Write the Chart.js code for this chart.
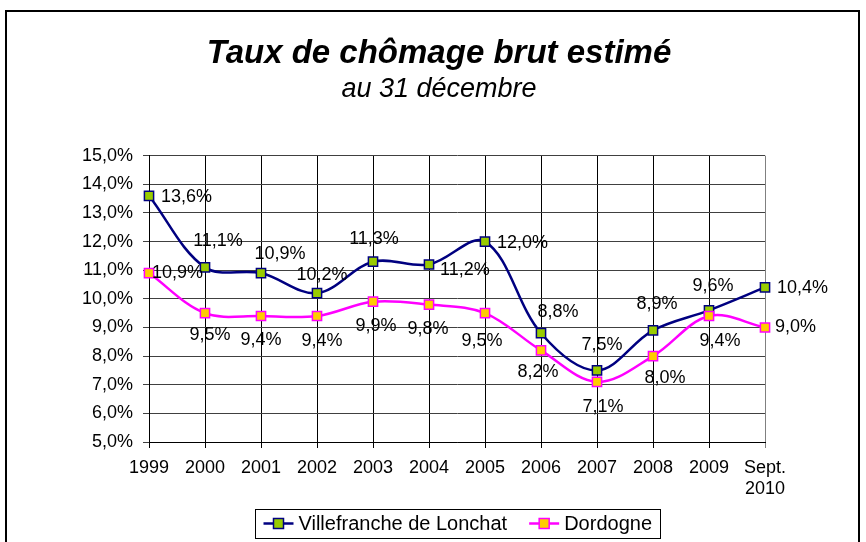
<!DOCTYPE html>
<html>
<head>
<meta charset="utf-8">
<script src="https://cdn.jsdelivr.net/npm/chart.js@4"></script>
<style>
    body { margin: 0; background: #fff; }
</style>
</head>
<body>
<canvas id="tauxChart" width="866" height="542"></canvas>
<script>
// années (dernier point = septembre 2010)
const years = ['1999', '2000', '2001', '2002', '2003', '2004', '2005', '2006', '2007', '2008', '2009', ['Sept.', '2010']];

// taux de chômage (%)
const villefranche = [13.6, 11.1, 10.9, 10.2, 11.3, 11.2, 12.0, 8.8, 7.5, 8.9, 9.6, 10.4];
const dordogne = [10.9, 9.5, 9.4, 9.4, 9.9, 9.8, 9.5, 8.2, 7.1, 8.0, 9.4, 9.0];

const yMin = 5;
const yMax = 15;
const yStep = 1;

const FONT = "'Liberation Sans', Arial, sans-serif";

// placement des étiquettes : [alignement, dx, dy] par rapport au point
const labelPlaceV = [
    ['left', 12, 1], ['center', 13, -26], ['center', 19, -19], ['center', 5, -18],
    ['center', 1, -23], ['left', 11, 6], ['left', 12, 1], ['center', 17, -21],
    ['center', 5, -25], ['center', 4, -26], ['center', 4, -24], ['left', 12, 1]
];
const labelPlaceD = [
    ['left', 3, 0], ['center', 5, 22], ['center', 0, 24], ['center', 5, 25],
    ['center', 3, 24], ['center', -1, 24], ['center', -3, 28], ['center', -3, 22],
    ['center', 6, 25], ['center', 12, 22], ['center', 11, 25], ['left', 10, 0]
];

function pct(v) {
    return v.toFixed(1).replace('.', ',') + '%';
}

// cadre extérieur
const framePlugin = {
    id: 'frame',
    beforeDraw(chart) {
        const ctx = chart.ctx;
        ctx.save();
        ctx.fillStyle = '#fff';
        ctx.fillRect(0, 0, chart.width, chart.height);
        ctx.strokeStyle = '#000';
        ctx.lineWidth = 2;
        ctx.strokeRect(6, 11, 853, 600);
        ctx.restore();
    }
};

// étiquettes de valeurs
const valueLabels = {
    id: 'valueLabels',
    afterDatasetsDraw(chart) {
        const ctx = chart.ctx;
        ctx.save();
        ctx.font = '18px ' + FONT;
        ctx.fillStyle = '#000';
        ctx.textBaseline = 'middle';
        chart.data.datasets.forEach((ds, di) => {
            const meta = chart.getDatasetMeta(di);
            const places = di === 0 ? labelPlaceV : labelPlaceD;
            meta.data.forEach((pt, i) => {
                const p = places[i];
                ctx.textAlign = p[0];
                ctx.fillText(pct(ds.data[i]), pt.x + p[1], pt.y + p[2]);
            });
        });
        ctx.restore();
    }
};

// légende encadrée
const boxLegend = {
    id: 'boxLegend',
    afterDraw(chart) {
        const ctx = chart.ctx;
        const area = chart.chartArea;
        ctx.save();
        ctx.font = '20px ' + FONT;
        const sym = 30, gap = 5, between = 22, pad = 8;
        const items = chart.data.datasets.map(ds => ({ ds, w: sym + gap + ctx.measureText(ds.label).width }));
        let total = pad * 2 + between * (items.length - 1);
        items.forEach(it => total += it.w);
        const top = 509, h = 29;
        const left = Math.round((area.left + area.right) / 2 - total / 2) + 0.5;
        ctx.strokeStyle = '#000';
        ctx.lineWidth = 1;
        ctx.strokeRect(left, top + 0.5, Math.round(total), h);
        let x = left + pad;
        const cy = top + h / 2;
        items.forEach(it => {
            const ds = it.ds;
            ctx.strokeStyle = ds.borderColor;
            ctx.lineWidth = 2.5;
            ctx.beginPath();
            ctx.moveTo(x, cy);
            ctx.lineTo(x + sym, cy);
            ctx.stroke();
            ctx.fillStyle = ds.pointBackgroundColor;
            ctx.strokeStyle = ds.pointBorderColor;
            ctx.lineWidth = 1.5;
            ctx.fillRect(x + sym / 2 - 5, cy - 5, 10, 10);
            ctx.strokeRect(x + sym / 2 - 5, cy - 5, 10, 10);
            ctx.fillStyle = '#000';
            ctx.textAlign = 'left';
            ctx.textBaseline = 'middle';
            ctx.fillText(ds.label, x + sym + gap, cy + 1);
            x += it.w + between;
        });
        ctx.restore();
    }
};

const ctx = document.getElementById('tauxChart').getContext('2d');
new Chart(ctx, {
    type: 'line',
    data: {
        labels: years,
        datasets: [{
            label: 'Villefranche de Lonchat',
            data: villefranche,
            borderColor: '#000080',
            borderWidth: 2.5,
            pointStyle: 'rect',
            pointRadius: 6.5,
            pointBackgroundColor: '#99CC00',
            pointBorderColor: '#000080',
            pointBorderWidth: 1.5,
            tension: 0.35,
            order: 1
        }, {
            label: 'Dordogne',
            data: dordogne,
            borderColor: '#FF00FF',
            borderWidth: 2.5,
            pointStyle: 'rect',
            pointRadius: 6.5,
            pointBackgroundColor: '#FFCC00',
            pointBorderColor: '#FF00FF',
            pointBorderWidth: 1.5,
            tension: 0.35,
            order: 0
        }]
    },
    options: {
        responsive: false,
        animation: false,
        layout: {
            padding: { top: 10, left: 12, right: 0, bottom: 0 }
        },
        scales: {
            x: {
                offset: false,
                grid: {
                    offset: false,
                    color: (c) => c.index === years.length - 1 ? '#808080' : '#000',
                    tickLength: 6
                },
                border: { color: '#000' },
                ticks: {
                    font: { family: FONT, size: 18 },
                    color: '#000',
                    padding: 9,
                    maxRotation: 0,
                    autoSkip: false
                },
                afterFit: (scale) => { scale.height = 100; }
            },
            y: {
                min: yMin,
                max: yMax,
                grid: {
                    color: '#404040',
                    tickLength: 6
                },
                border: { color: '#000' },
                ticks: {
                    stepSize: yStep,
                    font: { family: FONT, size: 18 },
                    color: '#000',
                    padding: 10,
                    callback: (v) => pct(v)
                },
                afterFit: (scale) => { scale.width = 137; }
            },
            // axe vide à droite pour réserver la marge
            yRight: {
                position: 'right',
                min: yMin,
                max: yMax,
                grid: { display: false, drawTicks: false },
                border: { display: false },
                ticks: { display: false },
                afterFit: (scale) => { scale.width = 101; }
            }
        },
        plugins: {
            legend: { display: false },
            tooltip: { enabled: false },
            title: {
                display: true,
                text: 'Taux de chômage brut estimé',
                color: '#000',
                font: { family: FONT, size: 33, style: 'italic', weight: 'bold', lineHeight: 1.0 },
                padding: { top: 27, bottom: 0 }
            },
            subtitle: {
                display: true,
                text: 'au 31 décembre',
                color: '#000',
                font: { family: FONT, size: 27, style: 'italic', lineHeight: 1.1 },
                padding: { top: 5, bottom: 51 }
            }
        }
    },
    plugins: [framePlugin, valueLabels, boxLegend]
});
</script>
</body>
</html>
